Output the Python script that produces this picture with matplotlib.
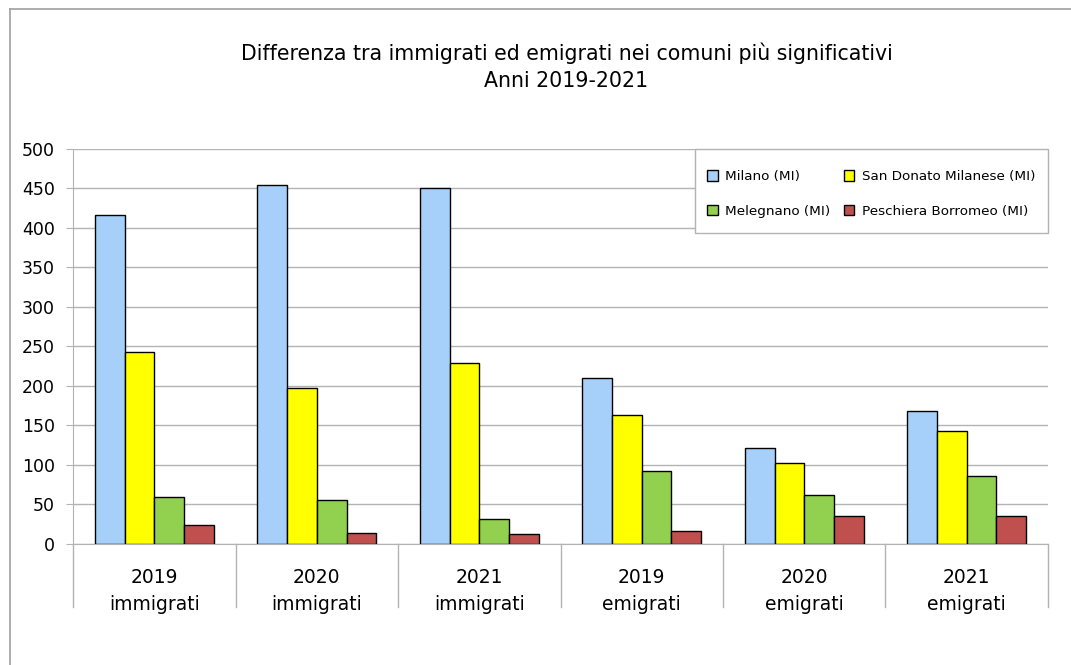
import matplotlib
matplotlib.use("Agg")
import matplotlib.pyplot as plt
import numpy as np
from matplotlib.lines import Line2D
from matplotlib.patches import Rectangle

categorie = ["2019\nimmigrati", "2020\nimmigrati", "2021\nimmigrati",
             "2019\nemigrati", "2020\nemigrati", "2021\nemigrati"]
comuni = ["Milano (MI)", "San Donato Milanese (MI)", "Melegnano (MI)", "Peschiera Borromeo (MI)"]
milano = [416, 454, 450, 210, 121, 168]
san_donato = [243, 198, 229, 163, 103, 143]
melegnano = [59, 56, 31, 92, 62, 86]
peschiera = [24, 14, 12, 17, 35, 35]
colori = ["#a6cff9", "#ffff00", "#92d050", "#c0504d"]

plt.rcParams["font.family"] = ["DejaVu Sans"]
fig = plt.figure(figsize=(10.71, 6.65), dpi=100)
ax = fig.add_axes([0.0682, 0.182, 0.9103, 0.594])

x = np.arange(len(categorie))
w = 0.183
serie = [milano, san_donato, melegnano, peschiera]
barre = []
for i, (vals, col) in enumerate(zip(serie, colori)):
    b = ax.bar(x + (i - 1.5) * w, vals, w, color=col, edgecolor="black",
               linewidth=1, label=comuni[i], zorder=3)
    barre.append(b)

ax.set_xlim(-0.5, len(categorie) - 0.5)
ax.set_ylim(0, 500)
ax.set_yticks(range(0, 501, 50))
ax.tick_params(axis="y", labelsize=12.5, length=5, color="#b3b3b3", pad=8)
ax.set_xticks(x)
ax.set_xticklabels(categorie, fontsize=13.5, linespacing=1.58)
ax.tick_params(axis="x", length=0, pad=17)
ax.grid(axis="y", color="#b3b3b3", linewidth=1, zorder=0)
for s in ["top", "right"]:
    ax.spines[s].set_visible(False)
ax.spines["left"].set_color("#b3b3b3")
ax.spines["bottom"].set_color("#b3b3b3")

# separatori tra le categorie sotto l'asse
for b in np.arange(-0.5, len(categorie), 1.0):
    ax.plot([b, b], [0, -0.16], transform=ax.get_xaxis_transform(),
            color="#b3b3b3", linewidth=1, clip_on=False)

# cornice della legenda disegnata a mano
ax.add_patch(Rectangle((0.638, 0.787), 0.362, 0.213, transform=ax.transAxes,
                       facecolor="white", edgecolor="#b3b3b3", linewidth=1,
                       zorder=4, clip_on=False))
ordine = [0, 2, 1, 3]
leg = ax.legend([barre[k] for k in ordine], [comuni[k] for k in ordine],
                ncol=2, loc="upper left", bbox_to_anchor=(0.650, 0.946),
                borderaxespad=0, borderpad=0, fontsize=9.7, frameon=False,
                handlelength=0.8, handleheight=0.8, columnspacing=1.0,
                handletextpad=0.55, labelspacing=1.6)
leg.set_zorder(5)

fig.text(0.529, 0.9, "Differenza tra immigrati ed emigrati nei comuni più significativi\nAnni 2019-2021",
         ha="center", va="center", fontsize=14.8, linespacing=1.45)

# bordo del grafico
fig.add_artist(Line2D([10 / 1071, 10 / 1071], [0, 1 - 9 / 665], color="#a0a0a0", linewidth=1.2))
fig.add_artist(Line2D([10 / 1071, 1], [1 - 9 / 665, 1 - 9 / 665], color="#a0a0a0", linewidth=1.2))

fig.savefig("out.png", dpi=100)
